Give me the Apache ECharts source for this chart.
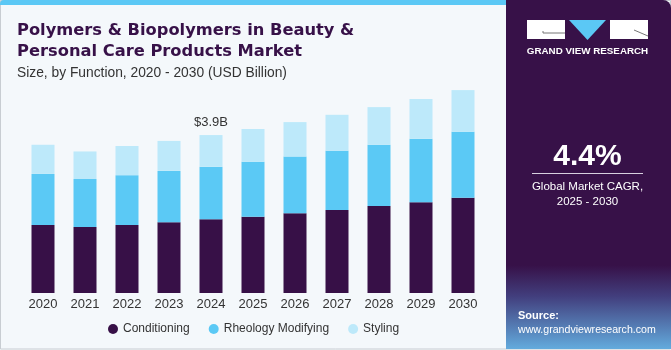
<!DOCTYPE html>
<html><head><meta charset="utf-8">
<script src="https://cdn.jsdelivr.net/npm/echarts@6/dist/echarts.min.js"></script>
<style>html,body{margin:0;padding:0;background:#fff}#c{width:671px;height:350px}</style>
</head><body><div id="c"></div>
<script>
const years = ['2020','2021','2022','2023','2024','2025','2026','2027','2028','2029','2030'];
const conditioning = [1.68,1.63,1.68,1.745,1.82,1.88,1.97,2.05,2.15,2.24,2.35];
const rheology = [1.26,1.185,1.23,1.27,1.30,1.36,1.40,1.46,1.51,1.57,1.63];
const styling = [0.72,0.68,0.72,0.74,0.78,0.81,0.85,0.89,0.93,0.98,1.03];
const annotationText = '$3.9B';
const annotationIndex = 4;

const chart = echarts.init(document.getElementById('c'), null, {renderer:'canvas'});
const font = '"Liberation Sans", Arial, sans-serif';
const purple = '#371148';
const stylingData = styling.map((v,i)=> i===annotationIndex ? {value:v, label:{show:true, position:'top', distance:6, formatter:annotationText, color:'#333', fontSize:13, fontFamily:font}} : v);

chart.setOption({
  animation:false,
  backgroundColor:'#f4f8fb',
  grid:{left:22, width:462, top:50, bottom:57},
  xAxis:{type:'category', data:years, axisLine:{show:false}, axisTick:{show:false},
    axisLabel:{color:'#333', fontSize:13, fontFamily:font, margin:5}},
  yAxis:{type:'value', min:0, max:6, show:false, splitLine:{show:false}},
  legend:{bottom:10, left:103, itemWidth:10, itemHeight:10, icon:'circle', itemGap:19,
    textStyle:{color:'#333', fontSize:12, fontFamily:font},
    data:['Conditioning','Rheology Modifying','Styling']},
  series:[
    {name:'Conditioning', type:'bar', stack:'a', barWidth:23, data:conditioning, itemStyle:{color:'#371047'}},
    {name:'Rheology Modifying', type:'bar', stack:'a', barWidth:23, data:rheology, itemStyle:{color:'#5bc9f5'}},
    {name:'Styling', type:'bar', stack:'a', barWidth:23, data:stylingData, itemStyle:{color:'#bde9fa'}}
  ],
  graphic:[
    {type:'rect', shape:{x:0,y:0,width:510,height:5,r:[4,0,0,0]}, style:{fill:'#5bc8f5'}, z:-1},
    {type:'rect', shape:{x:0.5,y:0.5,width:670,height:348.5}, style:{fill:'none', stroke:'#c8cdd2', lineWidth:1}, z:-2},
    {type:'text', left:17, top:20, style:{text:'Polymers & Biopolymers in Beauty &\nPersonal Care Products Market', fill:'#371148', font:'bold 16.3px "DejaVu Sans", sans-serif', lineHeight:21.5}},
    {type:'text', left:17, top:66, style:{text:'Size, by Function, 2020 - 2030 (USD Billion)', fill:'#333', font:'13.8px '+font}},
    {type:'rect', shape:{x:506,y:0,width:165,height:349,r:[0,8,0,0]}, style:{fill:{type:'linear',x:0,y:0,x2:0,y2:1,colorStops:[{offset:0,color:purple},{offset:0.76,color:purple},{offset:0.85,color:'#423f7e'},{offset:1,color:'#63abdd'}]}}},
    {type:'rect', shape:{x:527,y:20,width:38,height:19}, style:{fill:'#fff'}},
    {type:'polyline', shape:{points:[[543,31],[543,33],[565,33]]}, style:{stroke:'#777', lineWidth:1, fill:'none'}},
    {type:'polygon', shape:{points:[[569,20],[606,20],[587.5,40]]}, style:{fill:'#5bc8f5'}},
    {type:'rect', shape:{x:610,y:20,width:38,height:19}, style:{fill:'#fff'}},
    {type:'line', shape:{x1:634,y1:30,x2:648,y2:36}, style:{stroke:'#777', lineWidth:1}},
    {type:'text', x:587.5, y:51, style:{text:'GRAND VIEW RESEARCH', fill:'#fff', font:'bold 9.8px '+font, align:'center', verticalAlign:'middle'}},
    {type:'text', x:587.5, y:157, style:{text:'4.4%', fill:'#fff', font:'bold 30px '+font, align:'center', verticalAlign:'middle'}},
    {type:'line', shape:{x1:532,y1:173.5,x2:643,y2:173.5}, style:{stroke:'#d8d0e0', lineWidth:1}},
    {type:'text', x:587.5, y:187, style:{text:'Global Market CAGR,', fill:'#fff', font:'11.5px '+font, align:'center', verticalAlign:'middle'}},
    {type:'text', x:587.5, y:201.5, style:{text:'2025 - 2030', fill:'#fff', font:'11.5px '+font, align:'center', verticalAlign:'middle'}},
    {type:'text', x:518, y:316, style:{text:'Source:', fill:'#fff', font:'bold 11px '+font, verticalAlign:'middle'}},
    {type:'text', x:518, y:330, style:{text:'www.grandviewresearch.com', fill:'#fff', font:'10.6px '+font, verticalAlign:'middle'}}
  ]
});
</script></body></html>
